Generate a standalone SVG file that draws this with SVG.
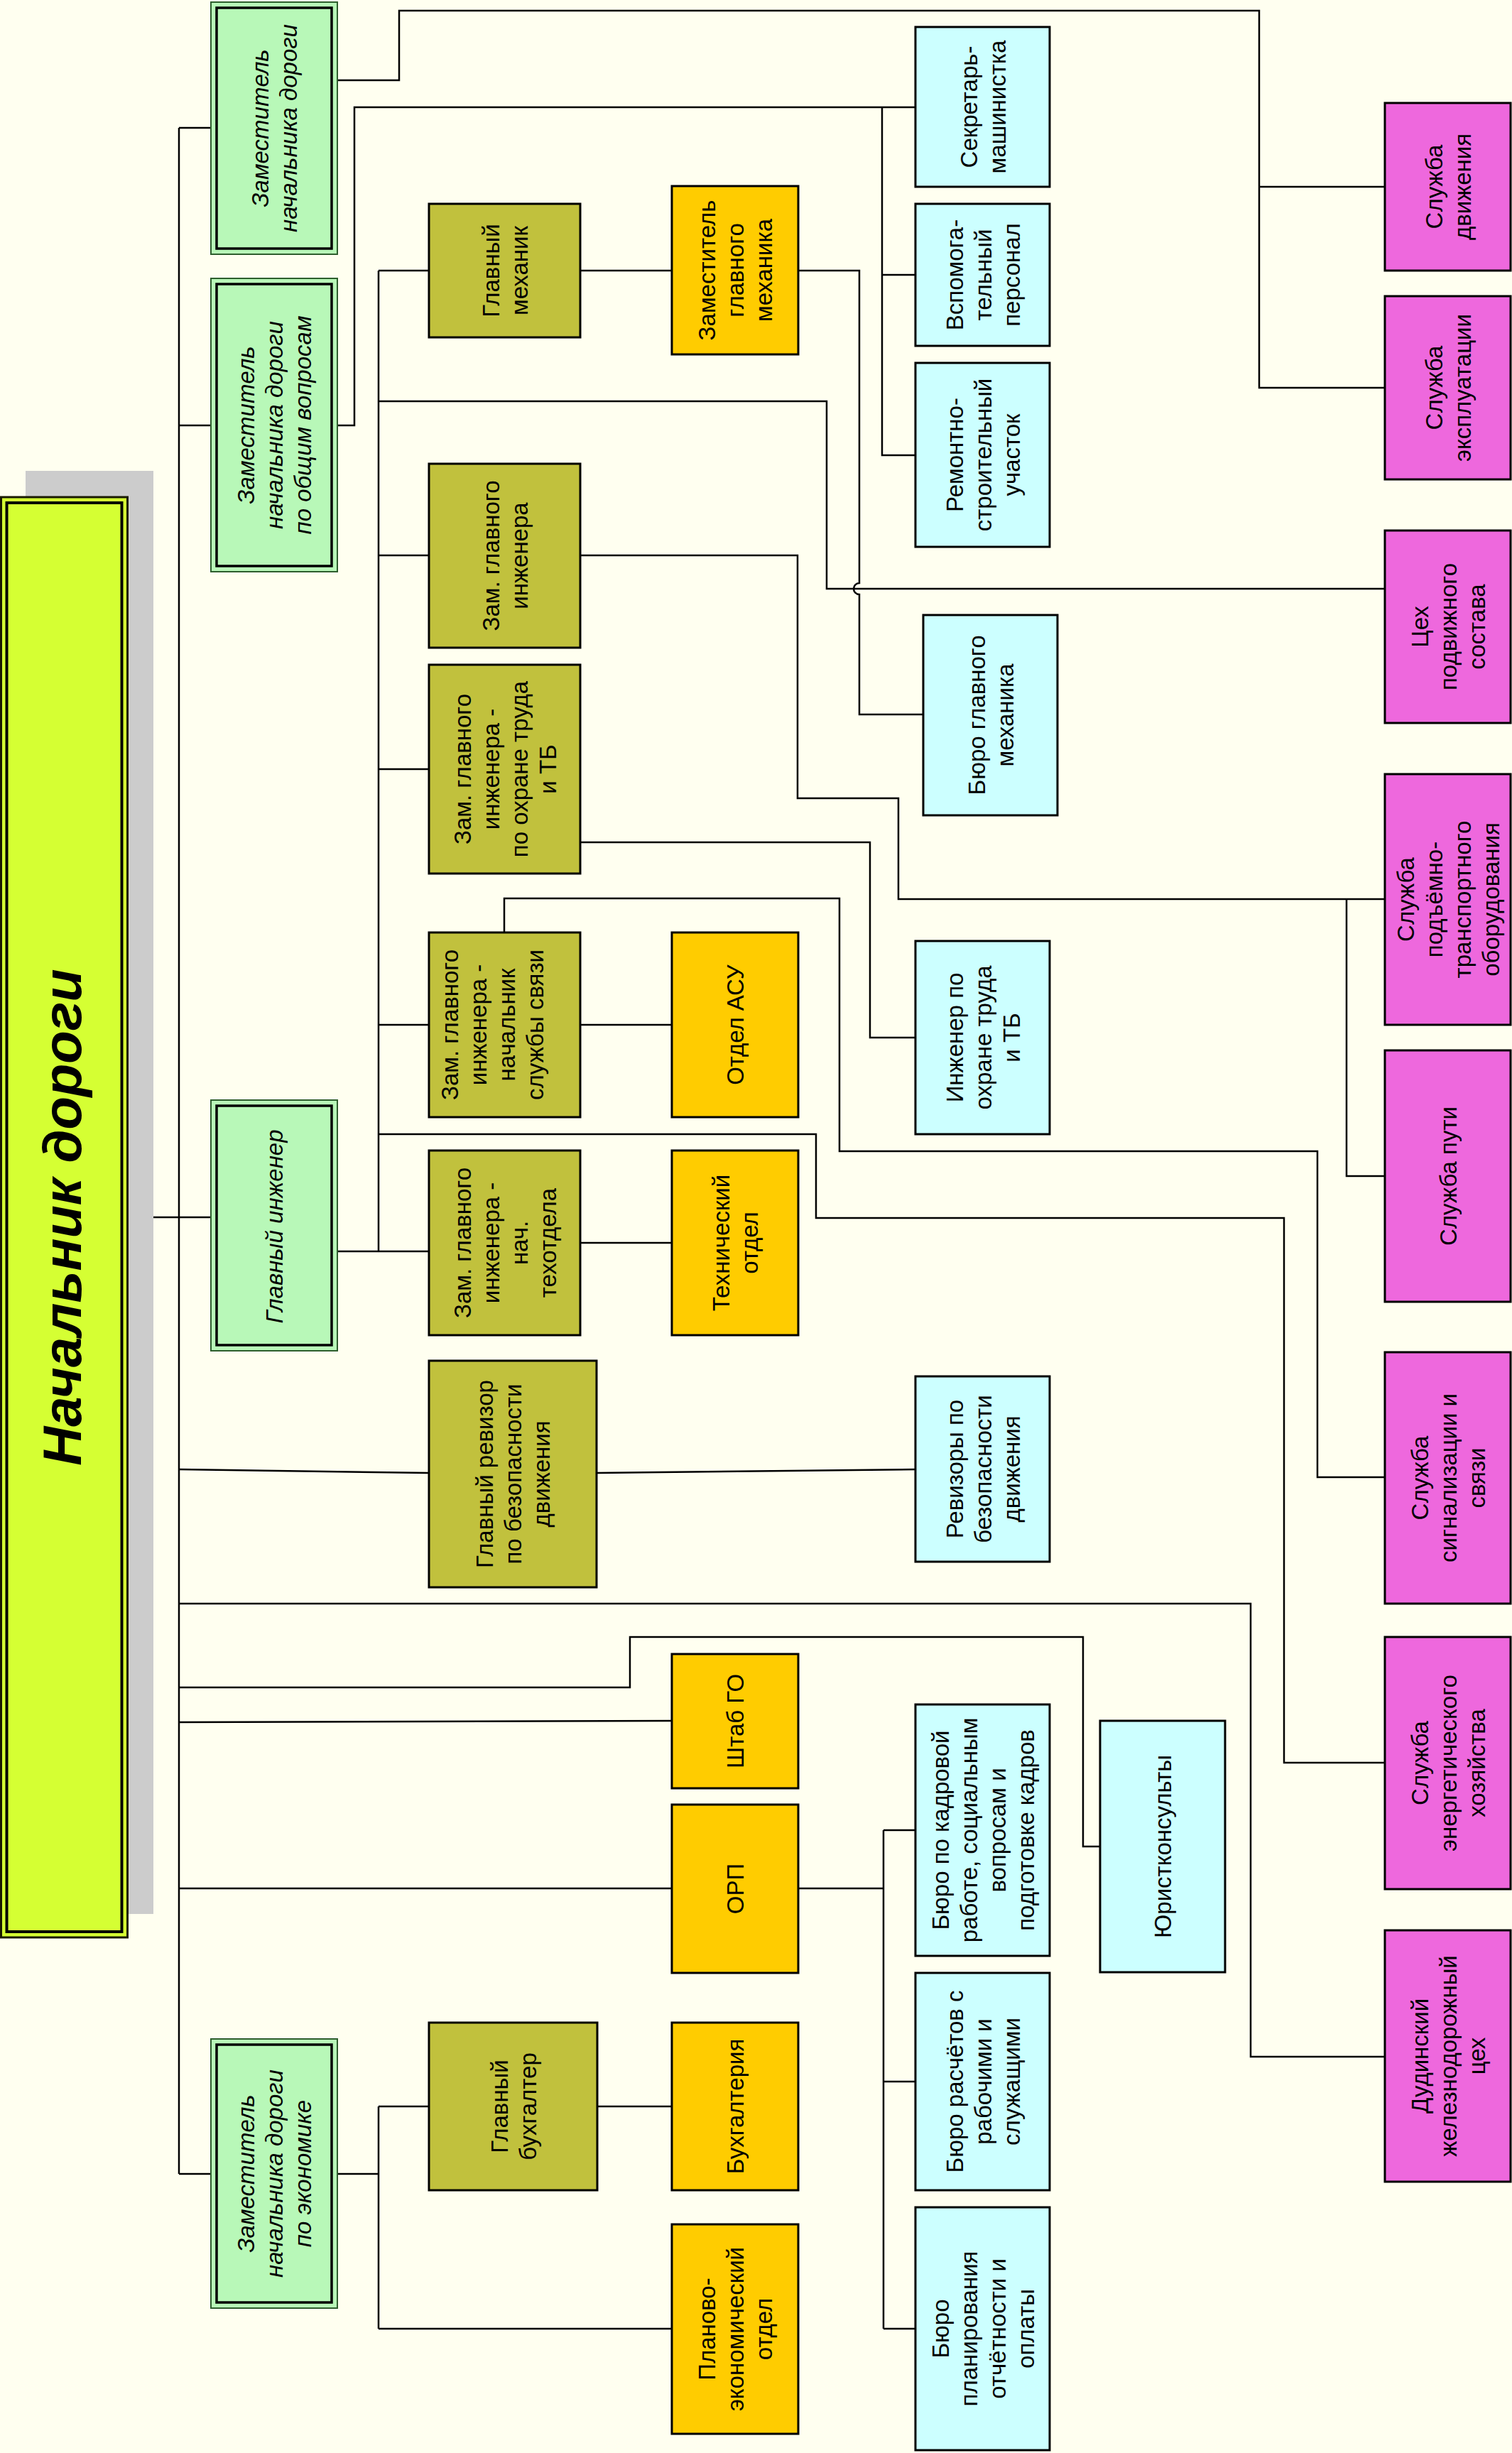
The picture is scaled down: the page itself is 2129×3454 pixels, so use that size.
<svg xmlns="http://www.w3.org/2000/svg" width="2129" height="3454" viewBox="0 0 2129 3454">
<style>
.ln{fill:none;stroke:#000;stroke-width:2.5}
.bx{stroke:#000;stroke-width:3}
.ol{fill:#C1C13D}
.or{fill:#FFCC00}
.cy{fill:#CCFFFF}
.mg{fill:#EE68DD}
.go{fill:#B8F8B8;stroke:#2E5E2E;stroke-width:2}
.gi{fill:none;stroke:#000;stroke-width:3.5}
.t{font-family:"Liberation Sans",Arial,sans-serif;font-size:33px;text-anchor:middle;fill:#000}
.it{font-style:italic}
.ti{font-family:"Liberation Sans",Arial,sans-serif;font-size:76px;font-weight:bold;font-style:italic;text-anchor:middle;fill:#000}
</style>
<rect x="0" y="0" width="2129" height="3454" fill="#FFFFF0"/>

<g id="connectors">
<path class="ln" d="M252,180 V3061"/>
<path class="ln" d="M252,180 H297"/>
<path class="ln" d="M252,599 H297"/>
<path class="ln" d="M180,1714 H297"/>
<path class="ln" d="M252,2069 L604,2074"/>
<path class="ln" d="M252,2258 H1761 V2896 H1950"/>
<path class="ln" d="M252,2376 H887 V2305 H1525 V2600 H1549"/>
<path class="ln" d="M252,2425 L946,2423"/>
<path class="ln" d="M252,2659 H946"/>
<path class="ln" d="M252,3061 H297"/>
<path class="ln" d="M475,113 H562 V15 H1773 V546 H1950"/>
<path class="ln" d="M1773,263 H1950"/>
<path class="ln" d="M475,599 H499 V151 H1289"/>
<path class="ln" d="M1242,151 V641 H1289"/>
<path class="ln" d="M1242,387 H1289"/>
<path class="ln" d="M475,1762 H604"/>
<path class="ln" d="M533,381 V1762"/>
<path class="ln" d="M533,381 H604"/>
<path class="ln" d="M817,381 H946"/>
<path class="ln" d="M1124,381 H1210 V821 A8,8 0 0 0 1210,837 V1006 H1300"/>
<path class="ln" d="M533,565 H1164 V829 H1950"/>
<path class="ln" d="M533,782 H604"/>
<path class="ln" d="M817,782 H1123 V1124 H1265 V1266 H1950"/>
<path class="ln" d="M1896,1266 V1656 H1950"/>
<path class="ln" d="M533,1083 H604"/>
<path class="ln" d="M817,1186 H1225 V1461 H1289"/>
<path class="ln" d="M533,1443 H604"/>
<path class="ln" d="M817,1443 H946"/>
<path class="ln" d="M710,1313 V1265 H1182 V1621 H1855 V2080 H1950"/>
<path class="ln" d="M533,1597 H1149 V1715 H1808 V2482 H1950"/>
<path class="ln" d="M817,1750 H946"/>
<path class="ln" d="M840,2074 L1289,2069"/>
<path class="ln" d="M1124,2659 H1244"/>
<path class="ln" d="M1244,2577 V3279"/>
<path class="ln" d="M1244,2577 H1289"/>
<path class="ln" d="M1244,2931 H1289"/>
<path class="ln" d="M1244,3279 H1289"/>
<path class="ln" d="M475,3061 H533"/>
<path class="ln" d="M533,2966 V3279"/>
<path class="ln" d="M533,2966 H604"/>
<path class="ln" d="M841,2966 H946"/>
<path class="ln" d="M533,3279 H946"/>
</g>

<g id="n-nachalnik">
<rect x="36" y="663" width="180" height="2032" fill="#CCCCCC"/>
<rect x="1.5" y="700" width="178" height="2028" fill="#D5FF33" stroke="#1A1A00" stroke-width="3"/>
<rect x="9.5" y="708" width="162" height="2012" fill="none" stroke="#000" stroke-width="4"/>
<text class="ti" transform="translate(87,1714) rotate(-90)"><tspan x="0" y="27">Начальник дороги</tspan></text>
</g>

<g id="n-zam1">
<rect class="go" x="297" y="3" width="178" height="355"/>
<rect class="gi" x="305" y="11" width="162" height="339"/>
<text class="t it" transform="translate(386,180.5) rotate(-90)"><tspan x="0" y="-8">Заместитель</tspan><tspan x="0" y="32">начальника дороги</tspan></text>
</g>
<g id="n-zam2">
<rect class="go" x="297" y="392" width="178" height="413"/>
<rect class="gi" x="305" y="400" width="162" height="397"/>
<text class="t it" transform="translate(386,598.5) rotate(-90)"><tspan x="0" y="-28">Заместитель</tspan><tspan x="0" y="12">начальника дороги</tspan><tspan x="0" y="52">по общим вопросам</tspan></text>
</g>
<g id="n-glinzh">
<rect class="go" x="297" y="1549" width="178" height="353"/>
<rect class="gi" x="305" y="1557" width="162" height="337"/>
<text class="t it" transform="translate(386,1727) rotate(-90)"><tspan x="0" y="12">Главный инженер</tspan></text>
</g>
<g id="n-zam3">
<rect class="go" x="297" y="2871" width="178" height="379"/>
<rect class="gi" x="305" y="2879" width="162" height="363"/>
<text class="t it" transform="translate(386,3060.5) rotate(-90)"><tspan x="0" y="-28">Заместитель</tspan><tspan x="0" y="12">начальника дороги</tspan><tspan x="0" y="52">по экономике</tspan></text>
</g>

<g id="n-glmeh">
<rect class="bx ol" x="604" y="287" width="213" height="188"/>
<text class="t" transform="translate(710.5,381) rotate(-90)"><tspan x="0" y="-8">Главный</tspan><tspan x="0" y="32">механик</tspan></text>
</g>
<g id="n-zamgi">
<rect class="bx ol" x="604" y="653" width="213" height="259"/>
<text class="t" transform="translate(710.5,782.5) rotate(-90)"><tspan x="0" y="-8">Зам. главного</tspan><tspan x="0" y="32">инженера</tspan></text>
</g>
<g id="n-zamgi-ot">
<rect class="bx ol" x="604" y="936" width="213" height="294"/>
<text class="t" transform="translate(710.5,1083) rotate(-90)"><tspan x="0" y="-48">Зам. главного</tspan><tspan x="0" y="-8">инженера -</tspan><tspan x="0" y="32">по охране труда</tspan><tspan x="0" y="72">и ТБ</tspan></text>
</g>
<g id="n-zamgi-sv">
<rect class="bx ol" x="604" y="1313" width="213" height="260"/>
<text class="t" transform="translate(693,1443) rotate(-90)"><tspan x="0" y="-48">Зам. главного</tspan><tspan x="0" y="-8">инженера -</tspan><tspan x="0" y="32">начальник</tspan><tspan x="0" y="72">службы связи</tspan></text>
</g>
<g id="n-zamgi-to">
<rect class="bx ol" x="604" y="1620" width="213" height="260"/>
<text class="t" transform="translate(710.5,1750) rotate(-90)"><tspan x="0" y="-48">Зам. главного</tspan><tspan x="0" y="-8">инженера -</tspan><tspan x="0" y="32">нач.</tspan><tspan x="0" y="72">техотдела</tspan></text>
</g>
<g id="n-revizor">
<rect class="bx ol" x="604" y="1916" width="236" height="319"/>
<text class="t" transform="translate(722,2075.5) rotate(-90)"><tspan x="0" y="-28">Главный ревизор</tspan><tspan x="0" y="12">по безопасности</tspan><tspan x="0" y="52">движения</tspan></text>
</g>
<g id="n-glbuh">
<rect class="bx ol" x="604" y="2848" width="237" height="236"/>
<text class="t" transform="translate(722.5,2966) rotate(-90)"><tspan x="0" y="-8">Главный</tspan><tspan x="0" y="32">бухгалтер</tspan></text>
</g>

<g id="n-zamgm">
<rect class="bx or" x="946" y="262" width="178" height="237"/>
<text class="t" transform="translate(1035,380.5) rotate(-90)"><tspan x="0" y="-28">Заместитель</tspan><tspan x="0" y="12">главного</tspan><tspan x="0" y="52">механика</tspan></text>
</g>
<g id="n-asu">
<rect class="bx or" x="946" y="1313" width="178" height="260"/>
<text class="t" transform="translate(1035,1443) rotate(-90)"><tspan x="0" y="12">Отдел АСУ</tspan></text>
</g>
<g id="n-tehotdel">
<rect class="bx or" x="946" y="1620" width="178" height="260"/>
<text class="t" transform="translate(1035,1750) rotate(-90)"><tspan x="0" y="-8">Технический</tspan><tspan x="0" y="32">отдел</tspan></text>
</g>
<g id="n-shtab">
<rect class="bx or" x="946" y="2329" width="178" height="189"/>
<text class="t" transform="translate(1035,2423.5) rotate(-90)"><tspan x="0" y="12">Штаб ГО</tspan></text>
</g>
<g id="n-orp">
<rect class="bx or" x="946" y="2541" width="178" height="237"/>
<text class="t" transform="translate(1035,2659.5) rotate(-90)"><tspan x="0" y="12">ОРП</tspan></text>
</g>
<g id="n-buh">
<rect class="bx or" x="946" y="2848" width="178" height="236"/>
<text class="t" transform="translate(1035,2966) rotate(-90)"><tspan x="0" y="12">Бухгалтерия</tspan></text>
</g>
<g id="n-plan">
<rect class="bx or" x="946" y="3132" width="178" height="295"/>
<text class="t" transform="translate(1035,3279.5) rotate(-90)"><tspan x="0" y="-28">Планово-</tspan><tspan x="0" y="12">экономический</tspan><tspan x="0" y="52">отдел</tspan></text>
</g>

<g id="n-sekr">
<rect class="bx cy" x="1289" y="38" width="189" height="225"/>
<text class="t" transform="translate(1383.5,150.5) rotate(-90)"><tspan x="0" y="-8">Секретарь-</tspan><tspan x="0" y="32">машинистка</tspan></text>
</g>
<g id="n-vspom">
<rect class="bx cy" x="1289" y="287" width="189" height="200"/>
<text class="t" transform="translate(1383.5,387) rotate(-90)"><tspan x="0" y="-28">Вспомога-</tspan><tspan x="0" y="12">тельный</tspan><tspan x="0" y="52">персонал</tspan></text>
</g>
<g id="n-remont">
<rect class="bx cy" x="1289" y="511" width="189" height="259"/>
<text class="t" transform="translate(1383.5,640.5) rotate(-90)"><tspan x="0" y="-28">Ремонтно-</tspan><tspan x="0" y="12">строительный</tspan><tspan x="0" y="52">участок</tspan></text>
</g>
<g id="n-buro-gm">
<rect class="bx cy" x="1300" y="866" width="189" height="282"/>
<text class="t" transform="translate(1394.5,1007) rotate(-90)"><tspan x="0" y="-8">Бюро главного</tspan><tspan x="0" y="32">механика</tspan></text>
</g>
<g id="n-inzh-ot">
<rect class="bx cy" x="1289" y="1325" width="189" height="272"/>
<text class="t" transform="translate(1383.5,1461) rotate(-90)"><tspan x="0" y="-28">Инженер по</tspan><tspan x="0" y="12">охране труда</tspan><tspan x="0" y="52">и ТБ</tspan></text>
</g>
<g id="n-revizory">
<rect class="bx cy" x="1289" y="1938" width="189" height="261"/>
<text class="t" transform="translate(1383.5,2068.5) rotate(-90)"><tspan x="0" y="-28">Ревизоры по</tspan><tspan x="0" y="12">безопасности</tspan><tspan x="0" y="52">движения</tspan></text>
</g>
<g id="n-buro-kadr">
<rect class="bx cy" x="1289" y="2400" width="189" height="354"/>
<text class="t" transform="translate(1383.5,2577) rotate(-90)"><tspan x="0" y="-48">Бюро по кадровой</tspan><tspan x="0" y="-8">работе, социальным</tspan><tspan x="0" y="32">вопросам и</tspan><tspan x="0" y="72">подготовке кадров</tspan></text>
</g>
<g id="n-buro-rasch">
<rect class="bx cy" x="1289" y="2778" width="189" height="306"/>
<text class="t" transform="translate(1383.5,2931) rotate(-90)"><tspan x="0" y="-28">Бюро расчётов с</tspan><tspan x="0" y="12">рабочими и</tspan><tspan x="0" y="52">служащими</tspan></text>
</g>
<g id="n-buro-plan">
<rect class="bx cy" x="1289" y="3108" width="189" height="342"/>
<text class="t" transform="translate(1383.5,3279) rotate(-90)"><tspan x="0" y="-48">Бюро</tspan><tspan x="0" y="-8">планирования</tspan><tspan x="0" y="32">отчётности и</tspan><tspan x="0" y="72">оплаты</tspan></text>
</g>
<g id="n-jurist">
<rect class="bx cy" x="1549" y="2423" width="176" height="354"/>
<text class="t" transform="translate(1637,2600) rotate(-90)"><tspan x="0" y="12">Юристконсульты</tspan></text>
</g>

<g id="n-dvizh">
<rect class="bx mg" x="1950" y="145" width="177" height="236"/>
<text class="t" transform="translate(2038.5,263) rotate(-90)"><tspan x="0" y="-8">Служба</tspan><tspan x="0" y="32">движения</tspan></text>
</g>
<g id="n-expl">
<rect class="bx mg" x="1950" y="417" width="177" height="258"/>
<text class="t" transform="translate(2038.5,546) rotate(-90)"><tspan x="0" y="-8">Служба</tspan><tspan x="0" y="32">эксплуатации</tspan></text>
</g>
<g id="n-ceh-ps">
<rect class="bx mg" x="1950" y="747" width="177" height="271"/>
<text class="t" transform="translate(2038.5,882.5) rotate(-90)"><tspan x="0" y="-28">Цех</tspan><tspan x="0" y="12">подвижного</tspan><tspan x="0" y="52">состава</tspan></text>
</g>
<g id="n-pto">
<rect class="bx mg" x="1950" y="1090" width="177" height="353"/>
<text class="t" transform="translate(2038.5,1266.5) rotate(-90)"><tspan x="0" y="-48">Служба</tspan><tspan x="0" y="-8">подъёмно-</tspan><tspan x="0" y="32">транспортного</tspan><tspan x="0" y="72">оборудования</tspan></text>
</g>
<g id="n-puti">
<rect class="bx mg" x="1950" y="1479" width="177" height="354"/>
<text class="t" transform="translate(2038.5,1656) rotate(-90)"><tspan x="0" y="12">Служба пути</tspan></text>
</g>
<g id="n-signal">
<rect class="bx mg" x="1950" y="1904" width="177" height="354"/>
<text class="t" transform="translate(2038.5,2081) rotate(-90)"><tspan x="0" y="-28">Служба</tspan><tspan x="0" y="12">сигнализации и</tspan><tspan x="0" y="52">связи</tspan></text>
</g>
<g id="n-energo">
<rect class="bx mg" x="1950" y="2305" width="177" height="355"/>
<text class="t" transform="translate(2038.5,2482.5) rotate(-90)"><tspan x="0" y="-28">Служба</tspan><tspan x="0" y="12">энергетического</tspan><tspan x="0" y="52">хозяйства</tspan></text>
</g>
<g id="n-dudinka">
<rect class="bx mg" x="1950" y="2718" width="177" height="354"/>
<text class="t" transform="translate(2038.5,2895) rotate(-90)"><tspan x="0" y="-28">Дудинский</tspan><tspan x="0" y="12">железнодорожный</tspan><tspan x="0" y="52">цех</tspan></text>
</g>
</svg>
